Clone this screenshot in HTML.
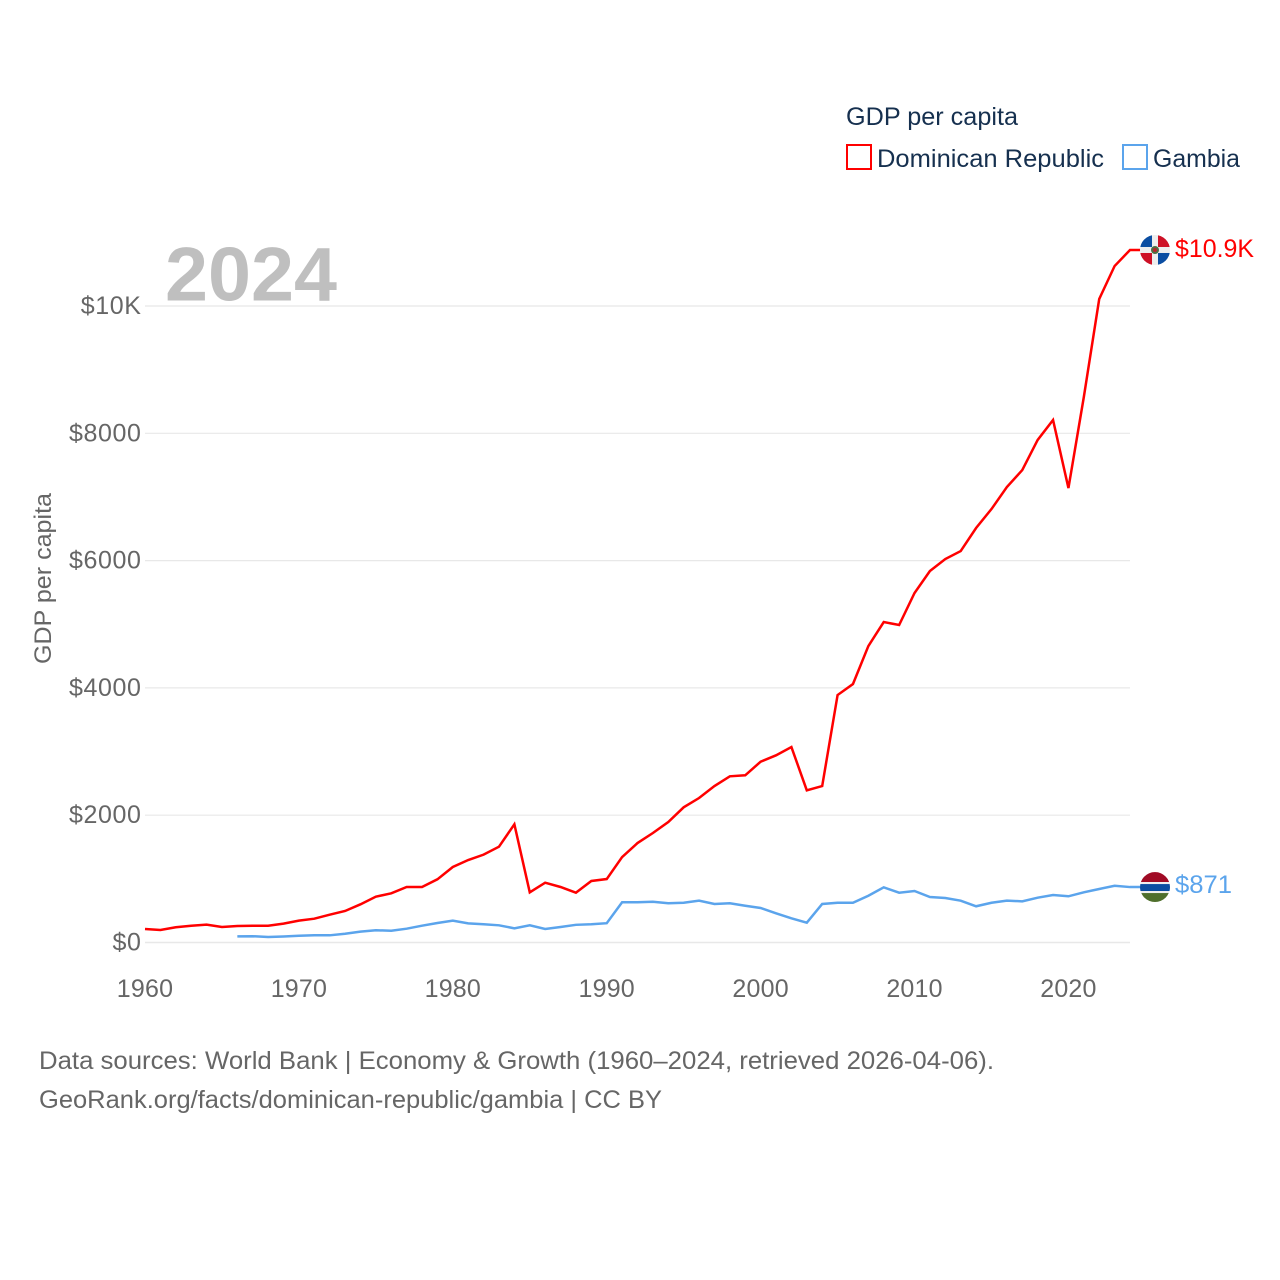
<!DOCTYPE html>
<html lang="en">
<head>
<meta charset="utf-8">
<title>GDP per capita: Dominican Republic and Gambia</title>
<style>
html,body{margin:0;padding:0;background:#fff;}
svg{display:block;}
text{font-family:"Liberation Sans",sans-serif;}
</style>
</head>
<body>
<svg id="chart" xmlns="http://www.w3.org/2000/svg" width="1280" height="1280" viewBox="0 0 1280 1280">
  <defs>
    <clipPath id="flag-clip"><circle cx="0" cy="0" r="15"/></clipPath>
  </defs>
  <rect width="1280" height="1280" fill="#ffffff"/>

  <g id="grid"></g>

  <text x="165" y="300.5" font-size="76" font-weight="700" fill="#bfbfbf" textLength="172" lengthAdjust="spacingAndGlyphs">2024</text>

  <g id="y-ticks"></g>
  <g id="x-ticks"></g>

  <text transform="translate(51,664) rotate(-90)" font-size="24.5" fill="#666666" textLength="171" lengthAdjust="spacingAndGlyphs">GDP per capita</text>

  <g id="series"></g>

  <g id="flag-dr">
    <g clip-path="url(#flag-clip)">
      <rect x="-15" y="-15" width="30" height="30" fill="#eeeeee"/>
      <rect x="-15" y="-15" width="12" height="12" fill="#0b4ea2"/>
      <rect x="3" y="-15" width="12" height="12" fill="#ce1126"/>
      <rect x="-15" y="3" width="12" height="12" fill="#ce1126"/>
      <rect x="3" y="3" width="12" height="12" fill="#0b4ea2"/>
      <circle r="4" fill="#4f6f43"/>
      <circle r="2" fill="#b5252f"/>
    </g>
  </g>
  <g id="flag-gm">
    <g clip-path="url(#flag-clip)">
      <rect x="-15" y="-15" width="30" height="10" fill="#a00b25"/>
      <rect x="-15" y="-5" width="30" height="2" fill="#eeeeee"/>
      <rect x="-15" y="-3" width="30" height="7" fill="#0b4ea2"/>
      <rect x="-15" y="4" width="30" height="2" fill="#eeeeee"/>
      <rect x="-15" y="6" width="30" height="10" fill="#4f6f2c"/>
    </g>
  </g>
  <text id="label-dr" x="1175" font-size="25" fill="#ff0000" textLength="79" lengthAdjust="spacingAndGlyphs"></text>
  <text id="label-gm" x="1175" font-size="25" fill="#5ba4ec" textLength="57" lengthAdjust="spacingAndGlyphs"></text>

  <g>
    <text x="846" y="125" font-size="25" fill="#16304f" textLength="172" lengthAdjust="spacingAndGlyphs">GDP per capita</text>
    <g>
      <rect x="847" y="145" width="24" height="24" fill="none" stroke="#ff0000" stroke-width="2"/>
      <text x="877" y="167" font-size="25" fill="#16304f" textLength="227" lengthAdjust="spacingAndGlyphs">Dominican Republic</text>
    </g>
    <g>
      <rect x="1123" y="145" width="24" height="24" fill="none" stroke="#5ba4ec" stroke-width="2"/>
      <text x="1153" y="167" font-size="25" fill="#16304f" textLength="87" lengthAdjust="spacingAndGlyphs">Gambia</text>
    </g>
  </g>

  <text x="39" y="1069" font-size="25" fill="#666666" textLength="955" lengthAdjust="spacingAndGlyphs">Data sources: World Bank | Economy &amp; Growth (1960–2024, retrieved 2026-04-06).</text>
  <text x="39" y="1108" font-size="25" fill="#666666" textLength="623" lengthAdjust="spacingAndGlyphs">GeoRank.org/facts/dominican-republic/gambia | CC BY</text>
</svg>

<script>
var years = [1960,1961,1962,1963,1964,1965,1966,1967,1968,1969,
  1970,1971,1972,1973,1974,1975,1976,1977,1978,1979,
  1980,1981,1982,1983,1984,1985,1986,1987,1988,1989,
  1990,1991,1992,1993,1994,1995,1996,1997,1998,1999,
  2000,2001,2002,2003,2004,2005,2006,2007,2008,2009,
  2010,2011,2012,2013,2014,2015,2016,2017,2018,2019,
  2020,2021,2022,2023,2024];
var dominicanRepublic = [212,196,239,264,280,243,259,264,264,296,
  343,374,437,495,600,720,773,872,872,993,
  1186,1296,1380,1505,1857,788,940,872,783,966,
  997,1343,1563,1720,1893,2124,2270,2458,2611,2627,
  2841,2941,3071,2391,2458,3888,4061,4658,5035,4988,
  5491,5836,6025,6150,6512,6810,7156,7423,7895,8209,
  7140,8570,10110,10628,10880];
var gambia = [null,null,null,null,null,null,97,99,86,94,
  107,113,113,138,170,192,185,217,264,306,
  343,301,286,270,223,270,212,243,278,286,
  303,632,632,641,616,625,657,605,616,578,
  542,459,380,311,605,625,625,735,867,782,
  809,715,699,657,569,625,657,647,704,746,
  726,789,841,892,871];
var yTickValues = [0,2000,4000,6000,8000,10000];
var yTickLabels = ["$0","$2000","$4000","$6000","$8000","$10K"];
var xTickValues = [1960,1970,1980,1990,2000,2010,2020];
var xTickLabels = ["1960","1970","1980","1990","2000","2010","2020"];
var endLabels = ["$10.9K","$871"];

var NS = "http://www.w3.org/2000/svg";
function xScale(year) { return 145 + (year - 1960) * (985 / 64); }
function yScale(value) { return 942.5 - value * (636.5 / 10000); }

function make(tag, attrs, parent, text) {
  var el = document.createElementNS(NS, tag);
  for (var k in attrs) { el.setAttribute(k, attrs[k]); }
  if (text !== undefined) { el.textContent = text; }
  parent.appendChild(el);
  return el;
}

var gridGroup = document.getElementById("grid");
var yGroup = document.getElementById("y-ticks");
var xGroup = document.getElementById("x-ticks");
var seriesGroup = document.getElementById("series");

yTickValues.forEach(function (v, i) {
  var line = make("line", {x1: 145, x2: 1130, y1: yScale(v), y2: yScale(v), stroke: "#e8e8e8", "stroke-width": v === 0 ? 1.6 : 1.2}, gridGroup);
  
  
  var label = make("text", {x: 141.5, y: yScale(v) + 8, "font-size": 25, "letter-spacing": 0.6, fill: "#666666", "text-anchor": "end"}, yGroup, yTickLabels[i]);
  
  
});

xTickValues.forEach(function (v, i) {
  var label = make("text", {x: xScale(v), y: 997, "font-size": 25, "letter-spacing": 0.2, fill: "#666666", "text-anchor": "middle"}, xGroup, xTickLabels[i]);
  
  
});

function linePath(values) {
  var d = "", last = null;
  values.forEach(function (v, i) {
    if (v === null) { return; }
    var px = xScale(years[i]).toFixed(2), py = yScale(v).toFixed(2);
    d += (last === null ? "M" : "L") + px + " " + py + " ";
    last = py;
  });
  return d + "L" + (xScale(years[years.length - 1]) + 10).toFixed(2) + " " + last;
}

var gambiaLine = make("path", {d: linePath(gambia), fill: "none", stroke: "#5ba4ec", "stroke-width": 2.5, "stroke-linejoin": "miter"}, seriesGroup);



var drLine = make("path", {d: linePath(dominicanRepublic), fill: "none", stroke: "#ff0000", "stroke-width": 2.5, "stroke-linejoin": "miter"}, seriesGroup);



var drEnd = yScale(dominicanRepublic[dominicanRepublic.length - 1]);
var gmEnd = yScale(gambia[gambia.length - 1]);
document.getElementById("flag-dr").setAttribute("transform", "translate(1155," + drEnd + ")");
document.getElementById("flag-gm").setAttribute("transform", "translate(1155," + gmEnd + ")");
var labelDr = document.getElementById("label-dr");
labelDr.textContent = endLabels[0];
labelDr.setAttribute("y", drEnd + 7);
var labelGm = document.getElementById("label-gm");
labelGm.textContent = endLabels[1];
labelGm.setAttribute("y", gmEnd + 6);
</script>
</body>
</html>
